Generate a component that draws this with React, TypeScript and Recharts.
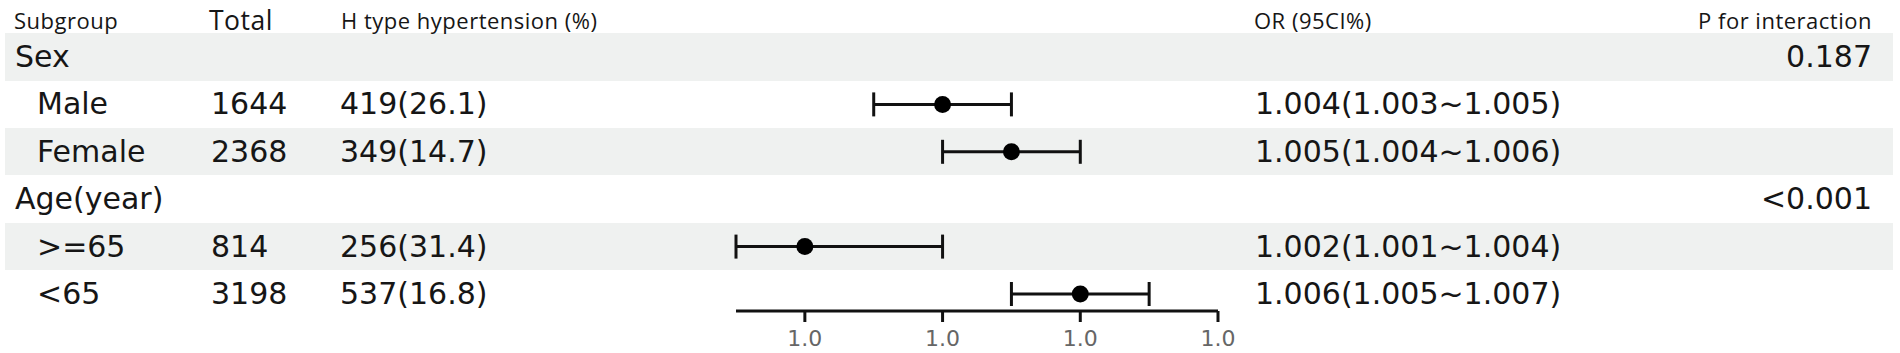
import React from 'react';
import { ScatterChart, Scatter, XAxis, YAxis, ErrorBar } from 'recharts';

// table rows, top to bottom
const subgroups = ['Sex', 'Male', 'Female', 'Age(year)', '>=65', '<65'];
const isGroupRow = [true, false, false, true, false, false];
const totals = ['', '1644', '2368', '', '814', '3198'];
const hTypeCounts = ['', '419(26.1)', '349(14.7)', '', '256(31.4)', '537(16.8)'];
const orValues: (number | null)[] = [null, 1.004, 1.005, null, 1.002, 1.006];
const ciLow: (number | null)[] = [null, 1.003, 1.004, null, 1.001, 1.005];
const ciHigh: (number | null)[] = [null, 1.005, 1.006, null, 1.004, 1.007];
const pInteraction = ['0.187', '', '', '<0.001', '', ''];
const xTicks = [1.002, 1.004, 1.006, 1.008];
const xDomain = [1.001, 1.008];

// layout
const W = 1900;
const H = 353;
const ROW_H = 47.4;
const FIRST_ROW_Y = 57;
const HEADER_Y = 19.5;
const AXIS_Y = 311;
const PLOT_LEFT = 736;
const PLOT_RIGHT = 1218;

const BODY_FONT = '"DejaVu Sans", sans-serif';
const HEAD_FONT = '"Open Sans", sans-serif';
const TEXT_COLOR = '#161616';
const BAND_COLOR = '#eff1f0';

const points = subgroups
  .map((name, i) => {
    const or = orValues[i];
    const lo = ciLow[i];
    const hi = ciHigh[i];
    if (or == null || lo == null || hi == null) return null;
    return { name, row: i, or, err: [or - lo, hi - or] };
  })
  .filter(Boolean) as { name: string; row: number; or: number; err: number[] }[];

const orLabel = (i: number) => {
  const or = orValues[i];
  const lo = ciLow[i];
  const hi = ciHigh[i];
  if (or == null || lo == null || hi == null) return '';
  return `${or.toFixed(3)}(${lo.toFixed(3)}~${hi.toFixed(3)})`;
};

const rowY = (i: number) => FIRST_ROW_Y + i * ROW_H;

interface CellProps {
  x: number;
  y: number;
  text: string;
  size: number;
  font?: string;
  right?: boolean;
}

const Cell: React.FC<CellProps> = ({ x, y, text, size, font = BODY_FONT, right }) => (
  <div
    style={{
      position: 'absolute',
      left: right ? undefined : x,
      right: right ? W - x : undefined,
      top: y - 30,
      height: 60,
      lineHeight: '60px',
      fontSize: size,
      fontFamily: font,
      color: TEXT_COLOR,
      whiteSpace: 'nowrap',
      letterSpacing: font === HEAD_FONT ? 0.5 : 0,
    }}
  >
    {text}
  </div>
);

const Dot = (props: any) => {
  const { cx, cy } = props;
  if (cx == null || cy == null) return null;
  return <circle cx={cx} cy={cy} r={8.5} fill="#000" />;
};

export default function App() {
  const yDomain = [-FIRST_ROW_Y / ROW_H, (AXIS_Y - FIRST_ROW_Y) / ROW_H];

  return (
    <div style={{ position: 'absolute', left: 0, top: 0, width: W, height: H, background: '#fff', overflow: 'hidden' }}>
      {/* shaded bands */}
      {subgroups.map((_, i) =>
        i % 2 === 0 ? (
          <div
            key={`band-${i}`}
            style={{
              position: 'absolute',
              left: 5,
              width: 1888,
              top: rowY(i) - ROW_H / 2,
              height: ROW_H,
              background: BAND_COLOR,
            }}
          />
        ) : null
      )}

      {/* header */}
      <Cell x={14} y={HEADER_Y} text="Subgroup" size={22} font={HEAD_FONT} />
      <Cell x={209} y={HEADER_Y} text="Total" size={26.5} font={HEAD_FONT} />
      <Cell x={341} y={HEADER_Y} text="H type hypertension (%)" size={22} font={HEAD_FONT} />
      <Cell x={1254} y={HEADER_Y} text="OR (95CI%)" size={22} font={HEAD_FONT} />
      <Cell x={1872} y={HEADER_Y} text="P for interaction" size={22} font={HEAD_FONT} right />

      {/* body */}
      {subgroups.map((name, i) => (
        <React.Fragment key={`row-${i}`}>
          <Cell x={isGroupRow[i] ? 15 : 37} y={rowY(i)} text={name} size={30} />
          <Cell x={211} y={rowY(i)} text={totals[i]} size={30} />
          <Cell x={340} y={rowY(i)} text={hTypeCounts[i]} size={30} />
          <Cell x={1255} y={rowY(i)} text={orLabel(i)} size={30} />
          <Cell x={1872} y={rowY(i)} text={pInteraction[i]} size={30} right />
        </React.Fragment>
      ))}

      {/* forest plot */}
      <div style={{ position: 'absolute', left: 0, top: 0 }}>
        <ScatterChart
          width={W}
          height={H}
          margin={{ top: 0, right: W - PLOT_RIGHT, bottom: 0, left: PLOT_LEFT }}
        >
          <XAxis
            type="number"
            dataKey="or"
            domain={xDomain}
            ticks={xTicks}
            interval={0}
            allowDataOverflow
            height={H - AXIS_Y}
            tickFormatter={(v: number) => v.toFixed(1)}
            axisLine={{ stroke: '#111', strokeWidth: 3 }}
            tickLine={{ stroke: '#111', strokeWidth: 3 }}
            tickSize={11}
            tickMargin={8}
            tick={{ fill: '#666', fontSize: 22, fontFamily: BODY_FONT }}
          />
          <YAxis type="number" dataKey="row" domain={yDomain} reversed hide width={0} allowDataOverflow />
          <Scatter data={points} shape={Dot} isAnimationActive={false}>
            <ErrorBar dataKey="err" direction="x" width={12} strokeWidth={3} stroke="#111" />
          </Scatter>
        </ScatterChart>
      </div>
    </div>
  );
}
